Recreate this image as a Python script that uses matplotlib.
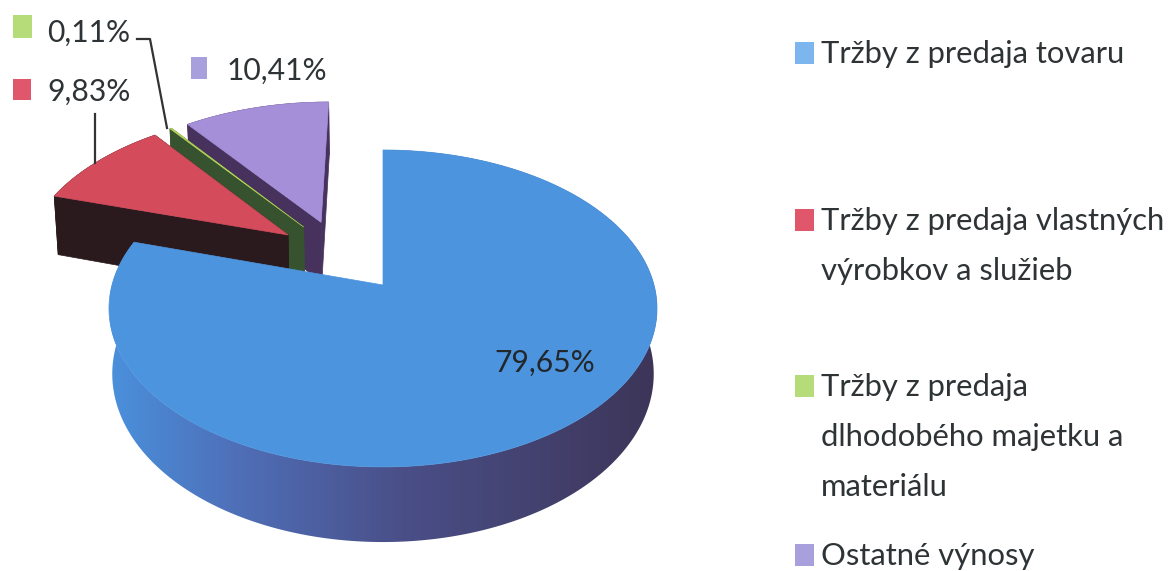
import numpy as np
import matplotlib
matplotlib.use('Agg')
import matplotlib.pyplot as plt
from matplotlib.colors import LinearSegmentedColormap
from matplotlib.patches import Polygon, Rectangle

# data
names = ['Tržby z predaja tovaru', 'Tržby z predaja vlastných\nvýrobkov a služieb',
         'Tržby z predaja\ndlhodobého majetku a\nmateriálu', 'Ostatné výnosy']
shares = [79.65, 9.83, 0.11, 10.41]
share_labels = ['79,65%', '9,83%', '0,11%', '10,41%']

# style
top_colors = ['#4d94de', '#d44c5b', '#b5d35a', '#a48fd8']
wall_colors = ['#3c3a66', '#2a1a1e', '#37522f', '#46325c']
key_colors = ['#7db6ee', '#e0566a', '#b5dc78', '#a8a0dc']
# how far each slice is pulled out, in disc units (x, y)
explode = [(0, 0), (-0.368, 0.339), (-0.31, 0.396), (-0.243, 0.43)]

cx, cy = 383, 285
rx, ry = 271, 155
persp = 0.148
depth = 64


def project(u, v, low=False):
    f = 1 / (1 + persp * v)
    x = rx * u * f
    y = ry * v * f
    if low:
        return cx + x * 0.988, cy - y + depth * f
    return cx + x, cy - y


def slice_points(a0, a1, off):
    # angles run clockwise from 12 o'clock, in degrees
    a = np.radians(np.linspace(a0, a1, max(2, int((a1 - a0) * 2))))
    return off[0] + np.sin(a), off[1] + np.cos(a)


fig = plt.figure(figsize=(11.68, 5.71), dpi=100)
ax = fig.add_axes([0, 0, 1, 1])
ax.set_xlim(0, 1168)
ax.set_ylim(571, 0)
ax.axis('off')

edges = np.concatenate([[0], np.cumsum(shares)]) * 3.6
edges[-1] = 360
wall_cmap = LinearSegmentedColormap.from_list(
    'wall', [(0, '#4a90dc'), (0.23, '#4f6fb8'), (0.53, '#4a4f88'), (1, '#3d3558')])

# back slices first, the big one last because it covers the others
for i in [3, 2, 1, 0]:
    off = explode[i]
    u, v = slice_points(edges[i], edges[i + 1], off)
    tx, ty = project(u, v)
    bx, by = project(u, v, low=True)
    ax0, ay0 = project(off[0], off[1])
    bx0, by0 = project(off[0], off[1], low=True)
    outer = np.column_stack([np.r_[tx, bx[::-1]], np.r_[ty, by[::-1]]])
    if i == 0:
        wall = Polygon(outer, fc='none', ec='none', zorder=2)
        ax.add_patch(wall)
        grad = ax.imshow(np.linspace(0, 1, 256)[None, :], cmap=wall_cmap, extent=[110, 660, 571, 0],
                         aspect='auto', zorder=2)
        grad.set_clip_path(wall)
    else:
        ax.add_patch(Polygon(outer, fc=wall_colors[i], ec=wall_colors[i], lw=0.5, zorder=2))
        # side walls of the pulled out slice
        for k in [0, -1]:
            side = [(ax0, ay0), (tx[k], ty[k]), (bx[k], by[k]), (bx0, by0)]
            ax.add_patch(Polygon(side, fc=wall_colors[i], ec=wall_colors[i], lw=0.5, zorder=2))
    face = np.column_stack([np.r_[ax0, tx], np.r_[ay0, ty]])
    ax.add_patch(Polygon(face, fc=top_colors[i], ec=top_colors[i], lw=0.5, zorder=2))
    ax.set_xlim(0, 1168)
    ax.set_ylim(571, 0)

# leader lines
ax.plot([137, 150, 167], [39, 39, 128], color='#333333', lw=1.6, zorder=3)
ax.plot([95, 95], [114, 163], color='#333333', lw=1.6, zorder=3)

text_color = '#2e3336'
font = 'Lato'
size = 22.3
label_size = 21.6

# data labels with their small keys
ax.text(545, 372, share_labels[0], fontsize=label_size, family=font, color='#22272b', ha='center', va='baseline', zorder=4)
label_pos = {1: (47, 101), 2: (47, 42), 3: (227, 80)}
key_pos = {1: (13, 79, 18, 21), 2: (13, 15, 19, 23), 3: (191, 57, 16, 22)}
for i in [1, 2, 3]:
    ax.text(label_pos[i][0], label_pos[i][1], share_labels[i], fontsize=label_size, family=font, color=text_color,
            va='baseline', zorder=4)
    x, y, w, h = key_pos[i]
    ax.add_patch(Rectangle((x, y), w, h, fc=key_colors[i], ec='none', zorder=4))

# legend
legend_key_y = [42, 209, 375, 544]
legend_base_y = [63, 230, 396, 565]
for i in range(4):
    ax.add_patch(Rectangle((795, legend_key_y[i]), 19, 22, fc=key_colors[i], ec='none', zorder=4))
    for j, line in enumerate(names[i].split('\n')):
        ax.text(821, legend_base_y[i] + j * 50, line, fontsize=size, family=font, color=text_color,
                va='baseline', zorder=4)

fig.savefig('out.png', dpi=100)
